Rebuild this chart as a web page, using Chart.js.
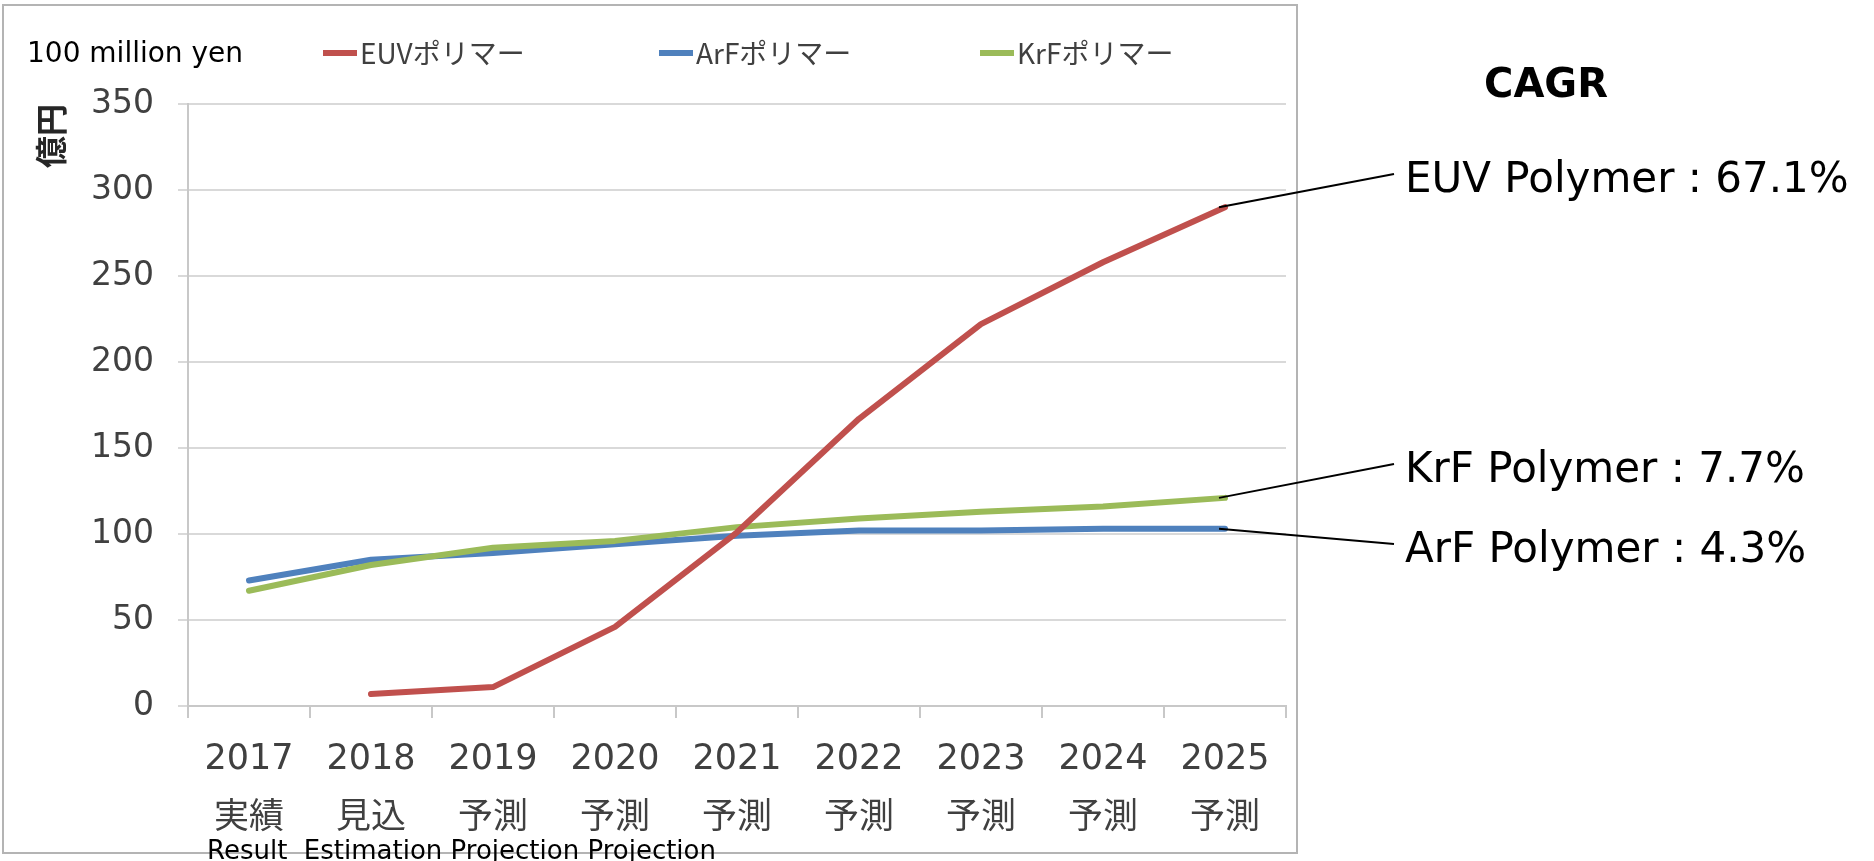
<!DOCTYPE html>
<html>
<head>
<meta charset="utf-8">
<title>EUV / ArF / KrF polymer market</title>
<script src="https://cdn.jsdelivr.net/npm/chart.js@4.4.1/dist/chart.umd.min.js"></script>
<style>
  html, body { margin: 0; padding: 0; background: #fff; }
  #chart { display: block; }
</style>
</head>
<body>
<canvas id="chart" width="1874" height="861"></canvas>
<script>
// years and status row (実績 = result, 見込 = estimate, 予測 = forecast)
const years = ["2017", "2018", "2019", "2020", "2021", "2022", "2023", "2024", "2025"];
const status = ["実績", "見込", "予測", "予測", "予測", "予測", "予測", "予測", "予測"];

// market size, 100 million yen
const euvPolymer = [null, 7, 11, 46, 101, 167, 222, 258, 290];
const arfPolymer = [73, 85, 89, 94, 99, 102, 102, 103, 103];
const krfPolymer = [67, 82, 92, 96, 104, 109, 113, 116, 121];

const seriesNames = ["EUVポリマー", "ArFポリマー", "KrFポリマー"];
const cagrLabels = ["EUV Polymer : 67.1%", "ArF Polymer : 4.3%", "KrF Polymer : 7.7%"];
const yTicks = [0, 50, 100, 150, 200, 250, 300, 350];

const colors = ["#C0504D", "#4F81BD", "#9BBB59"];
const textFont = "'DejaVu Sans', 'Noto Sans CJK JP', sans-serif";

// legend, CAGR labels and frame drawn on the same canvas
const annotations = {
    id: "annotations",
    beforeDraw(chart) {
        const ctx = chart.ctx;
        ctx.save();
        ctx.fillStyle = "#fff";
        ctx.fillRect(0, 0, chart.width, chart.height);
        // frame round the chart
        ctx.strokeStyle = "#b4b4b4";
        ctx.lineWidth = 2;
        ctx.strokeRect(3, 5, 1294, 848);
        ctx.restore();
    },
    afterDraw(chart) {
        const ctx = chart.ctx;
        ctx.save();
        ctx.textBaseline = "middle";

        // unit
        ctx.fillStyle = "#000";
        ctx.font = "28px " + textFont;
        ctx.fillText("100 million yen", 27, 55);

        // legend
        const legendX = [323, 659, 980];
        chart.data.datasets.forEach((ds, i) => {
            ctx.strokeStyle = ds.borderColor;
            ctx.lineWidth = 6;
            ctx.beginPath();
            ctx.moveTo(legendX[i], 53);
            ctx.lineTo(legendX[i] + 34, 53);
            ctx.stroke();
            ctx.fillStyle = "#404040";
            ctx.font = "28px 'Noto Sans CJK JP', sans-serif";
            ctx.fillText(ds.label, legendX[i] + 37, 53);
        });

        // CAGR heading and leader lines
        ctx.fillStyle = "#000";
        ctx.font = "bold 40px " + textFont;
        ctx.textAlign = "center";
        ctx.fillText("CAGR", 1546, 87);
        ctx.textAlign = "left";

        const labelY = [181, 551, 471];
        ctx.font = "42px " + textFont;
        ctx.strokeStyle = "#000";
        ctx.lineWidth = 2;
        chart.data.datasets.forEach((ds, i) => {
            const pts = chart.getDatasetMeta(i).data;
            const last = pts[pts.length - 1];
            ctx.beginPath();
            ctx.moveTo(last.x - 6, last.y);
            ctx.lineTo(1394, labelY[i] - 7);
            ctx.stroke();
            ctx.fillText(cagrLabels[i], 1405, labelY[i]);
        });

        // English notes for the status row
        ctx.font = "26px " + textFont;
        ctx.fillText("Result  Estimation Projection Projection", 207, 852);
        ctx.restore();
    }
};

const ctx = document.getElementById("chart").getContext("2d");
new Chart(ctx, {
    type: "line",
    data: {
        labels: years.map((y, i) => [y, status[i]]),
        datasets: [
            { label: seriesNames[0], data: euvPolymer, borderColor: colors[0], backgroundColor: colors[0], order: 0 },
            { label: seriesNames[1], data: arfPolymer, borderColor: colors[1], backgroundColor: colors[1], order: 2 },
            { label: seriesNames[2], data: krfPolymer, borderColor: colors[2], backgroundColor: colors[2], order: 1 }
        ]
    },
    options: {
        responsive: false,
        animation: false,
        layout: { padding: { top: 104, right: 588, bottom: 0, left: 30 } },
        elements: {
            line: { borderWidth: 6, tension: 0, borderCapStyle: "round", borderJoinStyle: "round" },
            point: { radius: 0, hoverRadius: 0 }
        },
        plugins: {
            legend: { display: false },
            tooltip: { enabled: false }
        },
        scales: {
            x: {
                offset: true,
                grid: { offset: true, drawOnChartArea: false, color: "#c8c8c8", lineWidth: 2, tickLength: 12 },
                border: { color: "#c8c8c8", width: 2 },
                ticks: {
                    color: "#404040",
                    padding: 12,
                    maxRotation: 0,
                    font: { family: textFont, size: 35, lineHeight: 1.7 }
                }
            },
            y: {
                min: 0,
                max: 350,
                afterBuildTicks: axis => { axis.ticks = yTicks.map(v => ({ value: v })); },
                grid: { color: "#d9d9d9", lineWidth: 2, tickLength: 10 },
                border: { color: "#c8c8c8", width: 2 },
                ticks: {
                    color: "#404040",
                    padding: 24,
                    font: { family: textFont, size: 33 }
                },
                title: {
                    display: true,
                    text: "億円",
                    align: "end",
                    color: "#262626",
                    padding: { top: 5, bottom: 0 },
                    font: { family: "'Noto Sans CJK JP', sans-serif", size: 32, weight: "bold", lineHeight: 1 }
                }
            }
        }
    },
    plugins: [annotations]
});
</script>
</body>
</html>
